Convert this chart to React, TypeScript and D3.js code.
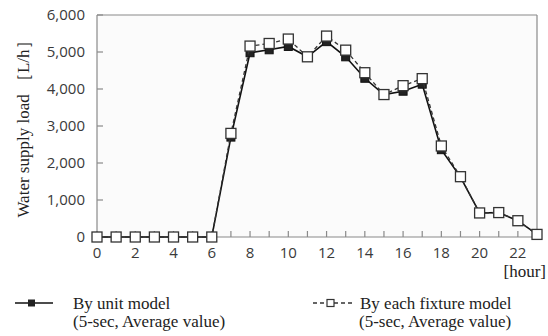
import React from "react";
import * as d3 from "d3";

const hours = d3.range(0, 24);
const unitModel = [0, 0, 0, 0, 0, 0, 0, 2700, 4980, 5060, 5150, 4870, 5280, 4870, 4290, 3850, 3940, 4130, 2360, 1620, 650, 660, 440, 70];
const fixtureModel = [0, 0, 0, 0, 0, 0, 0, 2800, 5160, 5230, 5350, 4870, 5430, 5050, 4440, 3850, 4090, 4280, 2460, 1630, 650, 660, 440, 70];
const yTicks = [0, 1000, 2000, 3000, 4000, 5000, 6000];
const xTickLabels = [0, 2, 4, 6, 8, 10, 12, 14, 16, 18, 20, 22];

const W = 548, H = 336;
const L = 97, R = 537, T = 15, B = 237;

export default function App() {
  const x = d3.scaleLinear().domain([0, 23]).range([L, R]);
  const y = d3.scaleLinear().domain([0, 6000]).range([B, T]);
  const line = d3.line<number>().x((_, i) => x(hours[i])).y((d) => y(d));
  const fmt = d3.format(",");
  const sans = "'Open Sans', 'Noto Sans', sans-serif";
  const serif = "'Liberation Serif', 'DejaVu Serif', serif";
  const axisCol = "#8a8a8a";
  const fs = 17;
  return (
    <svg width={W} height={H} style={{ position: "absolute", left: 0, top: 0, background: "#fff" }}>
      <rect x={L} y={T} width={R - L} height={B - T} fill="#fbfbfb" />
      {/* frame */}
      <line x1={L} x2={R} y1={T} y2={T} stroke={axisCol} strokeWidth={1.2} />
      <line x1={R} x2={R} y1={T} y2={B} stroke={axisCol} strokeWidth={1.2} />
      <line x1={L} x2={L} y1={T} y2={B} stroke={axisCol} strokeWidth={1.2} />
      <line x1={L} x2={R} y1={B} y2={B} stroke={axisCol} strokeWidth={1.2} />
      {yTicks.map((t) => (
        <g key={t}>
          <line x1={L} x2={L + 6} y1={y(t)} y2={y(t)} stroke={axisCol} strokeWidth={1.2} />
          <text x={L - 12} y={y(t)} dy="0.36em" textAnchor="end" fontFamily={sans} fontSize={15} fill="#3a3a3a">
            {fmt(t)}
          </text>
        </g>
      ))}
      {hours.map((h) => (
        <line key={h} x1={x(h)} x2={x(h)} y1={B} y2={B - 6} stroke={axisCol} strokeWidth={1.2} />
      ))}
      {xTickLabels.map((h) => (
        <text key={h} x={x(h)} y={B + 16} dy="0.36em" textAnchor="middle" fontFamily={sans} fontSize={15} fill="#3a3a3a">
          {h}
        </text>
      ))}
      <text x={546} y={277} textAnchor="end" fontFamily={serif} fontSize={fs} fill="#222">
        [hour]
      </text>
      <text transform={`translate(28.5,${(T + B) / 2 - 1}) rotate(-90)`} textAnchor="middle" fontFamily={serif} fontSize={fs} fill="#222">
        Water supply load ［L/h］
      </text>
      {/* unit model */}
      <path d={line(unitModel) || ""} fill="none" stroke="#111" strokeWidth={1.6} />
      {unitModel.map((v, i) => (
        <rect key={"u" + i} x={x(hours[i]) - 4} y={y(v) - 4} width={8} height={8} fill="#222" stroke="#111" strokeWidth={1} />
      ))}
      {/* fixture model */}
      <path d={line(fixtureModel) || ""} fill="none" stroke="#333" strokeWidth={1.3} strokeDasharray="4,3" />
      {fixtureModel.map((v, i) => (
        <rect key={"f" + i} x={x(hours[i]) - 5} y={y(v) - 5} width={10} height={10} fill="#fff" stroke="#333" strokeWidth={1.3} />
      ))}
      {/* legend */}
      <line x1={15} x2={53} y1={303} y2={303} stroke="#111" strokeWidth={1.6} />
      <rect x={28} y={299.5} width={7} height={7} fill="#222" />
      <text x={73} y={309} fontFamily={serif} fontSize={fs} fill="#222">By unit model</text>
      <text x={73} y={327} fontFamily={serif} fontSize={fs} fill="#222">(5-sec, Average value)</text>
      <line x1={313} x2={353} y1={303} y2={303} stroke="#333" strokeWidth={1.3} strokeDasharray="4,3" />
      <rect x={327} y={299.5} width={7} height={7} fill="#fff" stroke="#333" strokeWidth={1.2} />
      <text x={360} y={309} fontFamily={serif} fontSize={fs} fill="#222">By each fixture model</text>
      <text x={359} y={327} fontFamily={serif} fontSize={fs} fill="#222">(5-sec, Average value)</text>
    </svg>
  );
}
